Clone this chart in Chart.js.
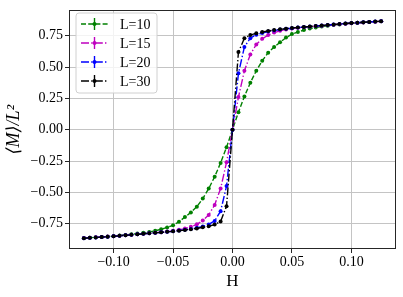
<!DOCTYPE html>
<html><head><meta charset="utf-8">
<script src="https://cdn.jsdelivr.net/npm/chart.js@4.4.0/dist/chart.umd.min.js"></script>
<style>html,body{margin:0;padding:0;background:#fff}#wrap{width:403px;height:297px;position:relative}</style>
</head><body><div id="wrap"><canvas id="c"></canvas></div>
<script>
const H = [-0.125,-0.12,-0.115,-0.11,-0.105,-0.1,-0.095,-0.09,-0.085,-0.08,-0.075,-0.07,-0.065,-0.06,-0.055,-0.05,-0.045,-0.04,-0.035,-0.03,-0.025,-0.02,-0.015,-0.01,-0.005,0,
  0.005,0.01,0.015,0.02,0.025,0.03,0.035,0.04,0.045,0.05,0.055,0.06,0.065,0.07,0.075,0.08,0.085,0.09,0.095,0.1,0.105,0.11,0.115,0.12,0.125];
const M10 = [-0.865,-0.862,-0.859,-0.856,-0.853,-0.849,-0.845,-0.840,-0.835,-0.829,-0.823,-0.816,-0.807,-0.795,-0.78,-0.763,-0.735,-0.697,-0.66,-0.615,-0.55,-0.47,-0.375,-0.265,-0.14,0,
  0.14,0.265,0.375,0.47,0.55,0.615,0.66,0.697,0.735,0.763,0.78,0.795,0.807,0.816,0.823,0.829,0.835,0.84,0.845,0.849,0.853,0.856,0.859,0.862,0.865];
const M15 = [-0.865,-0.862,-0.859,-0.856,-0.853,-0.850,-0.846,-0.842,-0.838,-0.834,-0.830,-0.826,-0.822,-0.818,-0.813,-0.807,-0.799,-0.789,-0.775,-0.755,-0.725,-0.68,-0.60,-0.47,-0.26,0,
  0.26,0.47,0.60,0.68,0.725,0.755,0.775,0.789,0.799,0.807,0.813,0.818,0.822,0.826,0.830,0.834,0.838,0.842,0.846,0.850,0.853,0.856,0.859,0.862,0.865];
const M20 = [-0.866,-0.863,-0.860,-0.857,-0.854,-0.851,-0.847,-0.843,-0.839,-0.835,-0.831,-0.827,-0.823,-0.819,-0.815,-0.810,-0.805,-0.799,-0.792,-0.783,-0.772,-0.756,-0.728,-0.65,-0.45,0,
  0.45,0.66,0.73,0.758,0.772,0.783,0.792,0.799,0.805,0.810,0.815,0.819,0.823,0.827,0.831,0.835,0.839,0.843,0.847,0.851,0.854,0.857,0.860,0.863,0.866];
const M30 = [-0.866,-0.863,-0.860,-0.857,-0.854,-0.851,-0.847,-0.843,-0.839,-0.835,-0.831,-0.827,-0.823,-0.819,-0.815,-0.811,-0.806,-0.801,-0.795,-0.788,-0.779,-0.77,-0.757,-0.732,-0.61,0,
  0.62,0.73,0.755,0.77,0.779,0.788,0.795,0.801,0.806,0.811,0.815,0.819,0.823,0.827,0.831,0.835,0.839,0.843,0.847,0.851,0.854,0.857,0.860,0.863,0.866];
const seriesNames = ['L=10','L=15','L=20','L=30'];
const xTicks = [-0.10,-0.05,0.00,0.05,0.10];
const yTicks = [-0.75,-0.50,-0.25,0.00,0.25,0.50,0.75];

const colors = ['#008000','#bf00bf','#0000ff','#000000'];
const dashes = [[5,2.2],[8,2.2,1.4,2.2],[8,2.2,1.4,2.2],[8,2.2,1.4,2.2]];
const series = [M10,M15,M20,M30];
const SERIF = "'Liberation Serif','DejaVu Serif',serif";

const fmt = v => (v < 0 ? '\u2212' : '') + Math.abs(v).toFixed(2);

const datasets = series.map((s,i)=>({
  label: seriesNames[i],
  data: H.map((h,k)=>({x:h,y:s[k]})),
  borderColor: colors[i], backgroundColor: colors[i],
  borderWidth: 1.4, borderDash: dashes[i],
  pointRadius: 2, pointHoverRadius: 2, pointBorderWidth: 0,
  pointBackgroundColor: colors[i],
  order: 4 - i, tension: 0, fill: false
}));

const framePlugin = {
  id: 'frame',
  afterDraw(chart){
    const {ctx, chartArea:a} = chart;
    ctx.save();
    ctx.strokeStyle = '#262626'; ctx.lineWidth = 1;
    ctx.strokeRect(Math.round(a.left)+0.5, Math.round(a.top)+0.5, Math.round(a.right-a.left)-1, Math.round(a.bottom-a.top)-1);
    // legend
    const bx = 76, by = 13, bw = 81, bh = 80, r = 3;
    ctx.beginPath();
    ctx.moveTo(bx+r,by); ctx.lineTo(bx+bw-r,by); ctx.arcTo(bx+bw,by,bx+bw,by+r,r);
    ctx.lineTo(bx+bw,by+bh-r); ctx.arcTo(bx+bw,by+bh,bx+bw-r,by+bh,r);
    ctx.lineTo(bx+r,by+bh); ctx.arcTo(bx,by+bh,bx,by+bh-r,r);
    ctx.lineTo(bx,by+r); ctx.arcTo(bx,by,bx+r,by,r); ctx.closePath();
    ctx.fillStyle = 'rgba(255,255,255,0.8)'; ctx.fill();
    ctx.strokeStyle = '#d0d0d0'; ctx.lineWidth = 1; ctx.stroke();
    seriesNames.forEach((name,i)=>{
      const y = 24 + i*19;
      ctx.strokeStyle = colors[i]; ctx.lineWidth = 1.4;
      ctx.setLineDash(dashes[i]);
      ctx.beginPath(); ctx.moveTo(81,y); ctx.lineTo(108,y); ctx.stroke();
      ctx.setLineDash([]);
      ctx.beginPath(); ctx.moveTo(94.5,y-6); ctx.lineTo(94.5,y+6); ctx.stroke();
      ctx.fillStyle = colors[i];
      ctx.beginPath(); ctx.arc(94.5,y,2,0,Math.PI*2); ctx.fill();
      ctx.fillStyle = '#000'; ctx.font = '14px ' + SERIF;
      ctx.textBaseline = 'middle'; ctx.textAlign = 'left';
      ctx.fillText(name, 120, y+1);
    });
    ctx.restore();
  }
};

new Chart(document.getElementById('c'), {
  type: 'line',
  data: { datasets },
  options: {
    responsive: true, maintainAspectRatio: false, animation: false,
    layout: { padding: { left: 0, right: 7, top: 7, bottom: 0 } },
    plugins: { legend: { display: false }, tooltip: { enabled: false } },
    scales: {
      x: {
        type: 'linear', min: -0.1375, max: 0.1375,
        afterBuildTicks: s => { s.ticks = xTicks.map(v=>({value:v})); },
        afterFit: s => { s.height = 48; },
        grid: { color: '#c4c4c4', lineWidth: 1, tickLength: 4, tickColor: '#262626', drawTicks: true },
        border: { display: false },
        ticks: { color: '#000', padding: 1, font: { family: SERIF, size: 14 }, callback: v => fmt(v), maxRotation: 0 },
        title: { display: true, text: 'H', color: '#000', font: { family: SERIF, size: 17 }, padding: { top: 0, bottom: 5 } }
      },
      y: {
        type: 'linear', min: -0.952, max: 0.952,
        afterBuildTicks: s => { s.ticks = yTicks.map(v=>({value:v})); },
        afterFit: s => { s.width = 69; },
        grid: { color: '#c4c4c4', lineWidth: 1, tickLength: 4, tickColor: '#262626', drawTicks: true },
        border: { display: false },
        ticks: { color: '#000', padding: 2, font: { family: SERIF, size: 14 }, callback: v => fmt(v) },
        title: { display: true, text: '\u27E8M\u27E9/L\u00B2', color: '#000', font: { family: SERIF, size: 18, style: 'italic' }, padding: { top: 3, bottom: 0 } }
      }
    }
  },
  plugins: [framePlugin]
});
</script>
</body></html>
